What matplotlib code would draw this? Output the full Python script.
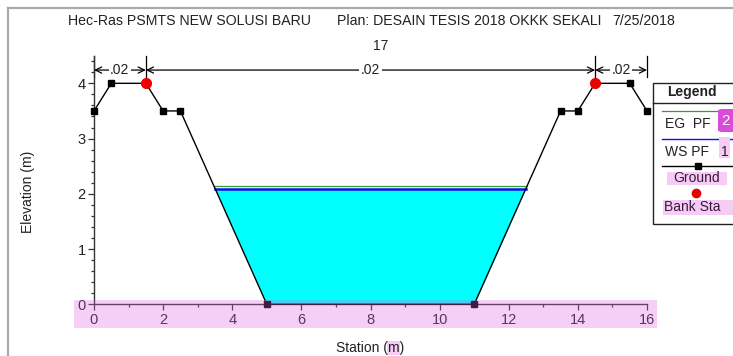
import numpy as np
import matplotlib
matplotlib.use("Agg")
import matplotlib.pyplot as plt
from matplotlib.lines import Line2D
from matplotlib.patches import Rectangle, FancyBboxPatch
from matplotlib.ticker import MultipleLocator

# Cross-section geometry (station, elevation)
station = [0.0, 0.5, 1.5, 2.0, 2.5, 5.0, 11.0, 13.5, 14.0, 14.5, 15.5, 16.0]
elevation = [3.5, 4.0, 4.0, 3.5, 3.5, 0.0, 0.0, 3.5, 3.5, 4.0, 4.0, 3.5]
bank_sta = [1.5, 14.5]
bank_elev = [4.0, 4.0]
ws_pf1 = 2.08      # water surface, profile 1
eg_pf2 = 2.14      # energy grade, profile 2
n_breaks = [0.0, 1.5, 14.5, 16.0]
n_values = [".02", ".02", ".02"]
title_parts = ["Hec-Ras PSMTS NEW SOLUSI BARU", "Plan: DESAIN TESIS 2018 OKKK SEKALI", "7/25/2018"]
section_id = "17"

W, H = 733, 356
FONT = ["Liberation Sans", "DejaVu Sans"]
plt.rcParams["font.family"] = FONT
TXT = "#222222"
PINK = "#f6cbf6"


def fx(x):
    return x / W


def fy(y):
    return 1 - y / H


def crossings(xs, ys, level):
    """Stations where the ground polyline crosses a horizontal level."""
    out = []
    for i in range(len(xs) - 1):
        y0, y1 = ys[i], ys[i + 1]
        if (y0 - level) * (y1 - level) < 0:
            t = (level - y0) / (y1 - y0)
            out.append(xs[i] + t * (xs[i + 1] - xs[i]))
    return out


fig = plt.figure(figsize=(W / 100, H / 100), dpi=100)
ax = fig.add_axes([fx(94), 1 - 304.3 / H, 553 / W, (304.3 - 55.7) / H])
ax.set_xlim(0, 16)
ax.set_ylim(0, 4.5)

sx = np.array(station)
sy = np.array(elevation)

# water body
ax.fill_between(sx, sy, ws_pf1, where=sy <= ws_pf1, interpolate=True,
                color="#00ffff", lw=0, zorder=1)
xe = crossings(station, elevation, eg_pf2)
ax.plot([xe[0], xe[-1]], [eg_pf2, eg_pf2], color="#2ca02c", lw=0.9, zorder=2)
xw = crossings(station, elevation, ws_pf1)
ax.plot([xw[0], xw[-1]], [ws_pf1, ws_pf1], color="#1010ee", lw=1.8, zorder=3)

# ground and bank stations
ax.plot(sx, sy, color="black", lw=1.0, marker="s", ms=5, zorder=4, clip_on=False)
ax.plot(bank_sta, bank_elev, "o", color="#ee0000", ms=7, zorder=5, clip_on=False)

# Manning's n segments
y_arrow = 4.24
for i, n in enumerate(n_values):
    a, b = n_breaks[i], n_breaks[i + 1]
    ax.annotate("", xy=(a, y_arrow), xytext=(b, y_arrow),
                arrowprops=dict(arrowstyle="<->,head_length=0.45,head_width=0.22",
                                lw=0.9, color="black", shrinkA=0, shrinkB=0),
                annotation_clip=False)
    ax.text((a + b) / 2, y_arrow, n, ha="center", va="center", fontsize=10,
            color=TXT, bbox=dict(facecolor="white", edgecolor="none", pad=1.2),
            zorder=6)
for xb in n_breaks:
    ax.plot([xb, xb], [4.12, 4.5], color="black", lw=0.9, clip_on=False)

# axes styling
for s in ("top", "right"):
    ax.spines[s].set_visible(False)
for s in ("left", "bottom"):
    ax.spines[s].set_color("#333333")
    ax.spines[s].set_linewidth(1.0)
ax.xaxis.set_major_locator(MultipleLocator(2))
ax.xaxis.set_minor_locator(MultipleLocator(1))
ax.yaxis.set_major_locator(MultipleLocator(1))
ax.yaxis.set_minor_locator(MultipleLocator(0.2))
ax.tick_params(which="major", direction="out", length=4, width=0.9,
               colors="#333333", labelsize=10.5, labelcolor=TXT, pad=2)
ax.tick_params(which="minor", direction="out", length=2.5, width=0.9, colors="#333333")
ax.set_yticks([0, 1, 2, 3, 4])
ax.set_xticks([0, 2, 4, 6, 8, 10, 12, 14, 16])

# titles and labels
fig.text(fx(68), fy(21), title_parts[0], fontsize=10.2, color=TXT, va="center")
fig.text(fx(337), fy(21), title_parts[1], fontsize=10.2, color=TXT, va="center")
fig.text(fx(612), fy(21), title_parts[2], fontsize=10.2, color=TXT, va="center")
fig.text(fx(381), fy(46), section_id, fontsize=10, color=TXT, ha="center", va="center")
fig.text(fx(28), fy(192), "Elevation (m)", fontsize=10, color=TXT, rotation=90,
         ha="center", va="center")

xl = fig.text(fx(370), fy(348), "Station (m)", fontsize=10, color=TXT,
              ha="center", va="center", zorder=3)
fig.canvas.draw()
r = fig.canvas.get_renderer()
bb = xl.get_window_extent(r)
tmp = fig.text(0, 0, "Station (", fontsize=10)
w_pre = tmp.get_window_extent(r).width
tmp2 = fig.text(0, 0, "m", fontsize=10)
w_m = tmp2.get_window_extent(r).width
tmp.remove()
tmp2.remove()
m_left = bb.x0 + w_pre
fig.patches.append(Rectangle((m_left / W - 0.001, fy(355)), w_m / W + 0.002, 14 / H,
                             transform=fig.transFigure, facecolor=PINK,
                             edgecolor="none", zorder=1))

# outer frame
fig.add_artist(Line2D([fx(8), fx(8)], [fy(8), 0], transform=fig.transFigure,
                      color="#aaaaaa", lw=1.6))
fig.add_artist(Line2D([fx(8), 1], [fy(8), fy(8)], transform=fig.transFigure,
                      color="#aaaaaa", lw=1.6))

# highlighted band along the station axis
fig.add_artist(Rectangle((fx(74), fy(328)), (657 - 74) / W, 28 / H,
                         transform=fig.transFigure, facecolor="#e060e0",
                         alpha=0.3, edgecolor="none", zorder=10))

# legend box
fig.add_artist(Rectangle((fx(653), fy(224)), (745 - 653) / W, (224 - 83) / H,
                         transform=fig.transFigure, facecolor="white",
                         edgecolor="#222222", lw=1.0, zorder=4, clip_on=False))
fig.add_artist(Line2D([fx(653), 1], [fy(103), fy(103)], transform=fig.transFigure,
                      color="#222222", lw=1.0, zorder=5))
fig.text(fx(692), fy(92), "Legend", fontsize=10, fontweight="bold", color=TXT,
         ha="center", va="center", zorder=6)

fig.add_artist(Line2D([fx(662), fx(718)], [fy(111), fy(111)], transform=fig.transFigure,
                      color="#2ca02c", lw=0.9, zorder=5))
fig.text(fx(665), fy(124), "EG  PF", fontsize=10, color=TXT, va="center", zorder=6)
fig.add_artist(FancyBboxPatch((fx(718), fy(132)), 20 / W, 23 / H,
                              boxstyle="round,pad=0,rounding_size=0.006",
                              transform=fig.transFigure, facecolor="#d94bd9",
                              edgecolor="none", zorder=6))
fig.text(fx(726), fy(121), "2", fontsize=11, color="white", ha="center",
         va="center", zorder=7)

fig.add_artist(Line2D([fx(662), 1], [fy(139), fy(139)], transform=fig.transFigure,
                      color="#1010ee", lw=1.0, zorder=5))
fig.add_artist(Rectangle((fx(719), fy(158)), 11 / W, 21 / H, transform=fig.transFigure,
                         facecolor=PINK, edgecolor="none", zorder=5))
fig.text(fx(665), fy(152), "WS PF", fontsize=10, color=TXT, va="center", zorder=6)
fig.text(fx(724.5), fy(152), "1", fontsize=10, color=TXT, ha="center",
         va="center", zorder=6)

fig.add_artist(Line2D([fx(662), fx(733)], [fy(166), fy(166)], transform=fig.transFigure,
                      color="black", lw=1.0, zorder=5))
fig.add_artist(Line2D([fx(698)], [fy(166)], transform=fig.transFigure, color="black",
                      marker="s", ms=5, lw=0, zorder=6))
fig.add_artist(Rectangle((fx(667), fy(185)), 60 / W, 13 / H, transform=fig.transFigure,
                         facecolor=PINK, edgecolor="none", zorder=5))
fig.text(fx(697), fy(178.5), "Ground", fontsize=10, color="#3a1a3a", ha="center",
         va="center", zorder=6)

fig.add_artist(Line2D([fx(696)], [fy(193)], transform=fig.transFigure, color="#ee0000",
                      marker="o", ms=6, lw=0, zorder=6))
fig.add_artist(Rectangle((fx(663), fy(215)), 70 / W, 15 / H, transform=fig.transFigure,
                         facecolor=PINK, edgecolor="none", zorder=5))
fig.text(fx(664), fy(207.5), "Bank Sta", fontsize=10, color="#3a1a3a",
         va="center", zorder=6)

fig.savefig("out.png", dpi=100)
